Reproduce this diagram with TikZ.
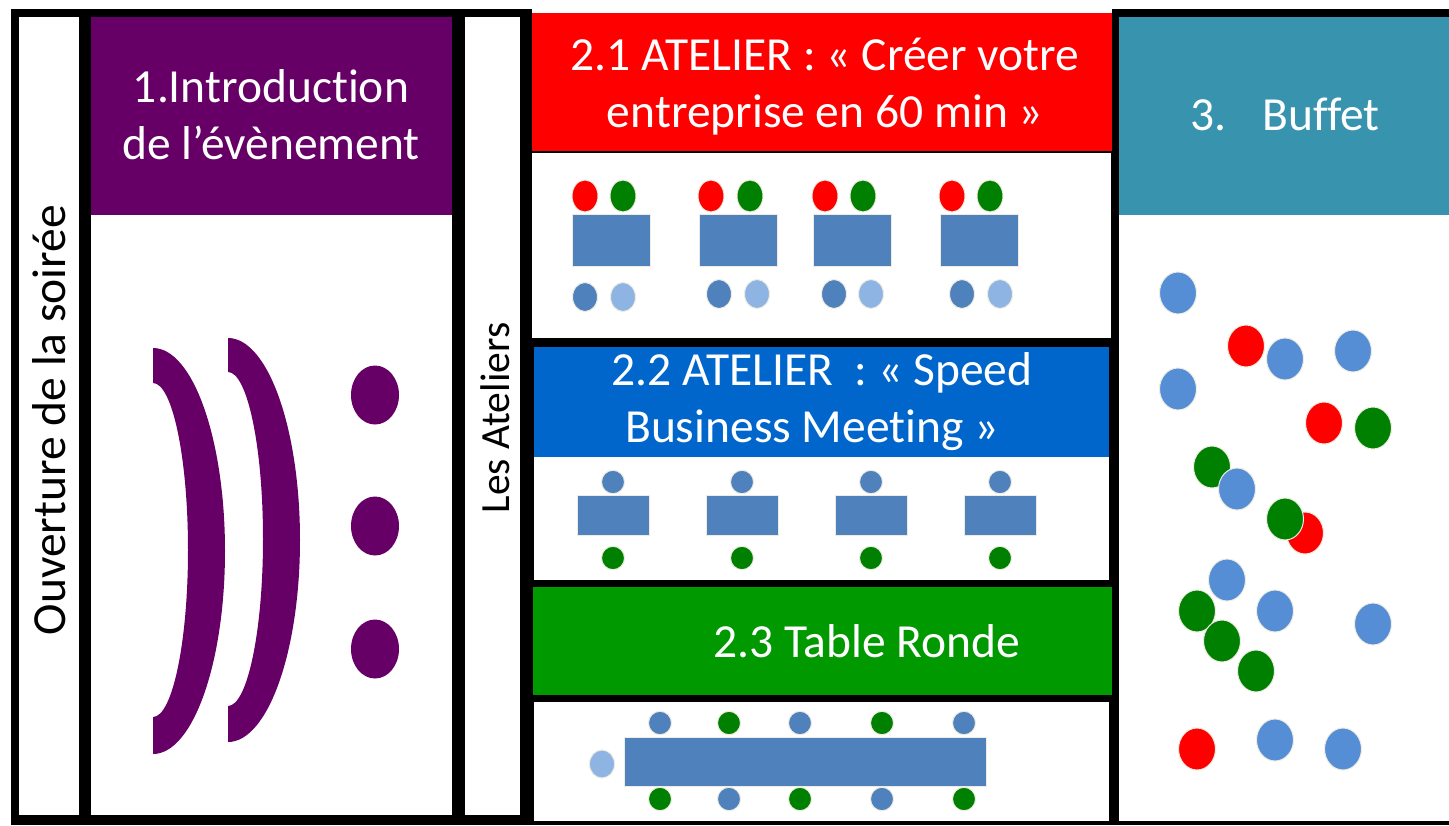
\documentclass[tikz,border=0pt]{standalone}
\usepackage{fontspec}
\setmainfont{Carlito}[Ligatures=NoCommon]
\definecolor{purp}{HTML}{660066}
\definecolor{redh}{HTML}{FF0000}
\definecolor{blueh}{HTML}{0066CC}
\definecolor{greenh}{HTML}{009900}
\definecolor{tealh}{HTML}{3894AE}
\definecolor{tblue}{HTML}{4F81BD}
\definecolor{lblue}{HTML}{8EB4E3}
\definecolor{bblue}{HTML}{558ED5}
\definecolor{pgreen}{HTML}{008000}
\definecolor{cream}{HTML}{EEECE1}
\tikzset{
  hdr/.style={text=white, font=\fontsize{47.5}{57}\selectfont, align=center, inner sep=0pt},
  sidelbl/.style={text=black, rotate=90, anchor=base, inner sep=0pt},
  frame/.style={fill=black},
  tablebox/.style={fill=tblue, draw=cream, line width=1pt},
  seat/.style={draw=cream, line width=1pt},
}
\begin{document}
\begin{tikzpicture}[x=1pt,y=-1pt]
\useasboundingbox (0,0) rectangle (1449,825);
\fill[white] (0,0) rectangle (1449,825);
% black frames
\fill[frame] (11,9) rectangle (532,825);
\fill[frame] (520,13) rectangle (1120,825);
\fill[frame] (1112,9) rectangle (1449,825);
% column A
\fill[white] (19,17) rectangle (79,815);
% column B
\fill[purp] (91,17) rectangle (452,215);
\fill[white] (91,215) rectangle (452,815);
% column C
\fill[white] (465,17) rectangle (520,815);
% column D
\fill[redh] (532,13) rectangle (1112,151);
\fill[white] (532,153) rectangle (1111,338);
\fill[blueh] (534,347) rectangle (1109,457);
\fill[white] (534,457) rectangle (1109,580);
\fill[greenh] (533,587) rectangle (1112,695);
\fill[white] (534,702) rectangle (1109,821);
% column E
\fill[tealh] (1119,17) rectangle (1449,215);
\fill[white] (1119,215) rectangle (1449,821);

% texts
\node[sidelbl, font=\fontsize{47.5}{57}\selectfont] (ouv) at (65.5,420) {Ouverture de la soirée};
\node[sidelbl, font=\fontsize{41.5}{50}\selectfont] (ate) at (509.5,418) {Les Ateliers};
\node[hdr] (intro) at (271,115) {1.Introduction\\de l’évènement};
\node[hdr] (a21) at (825,87) {2.1 ATELIER : « Créer votre\\entreprise en 60 min »};
\node[hdr] (a22) at (822,402) {2.2 ATELIER\ \ : « Speed\\Business Meeting »\hspace*{20pt}};
\node[hdr, anchor=base] (a23) at (867,657) {2.3 Table Ronde};
\node[hdr, anchor=base] (buf) at (1285,130) {3.\hspace{36pt}Buffet};

% purple stage arcs and dots
\fill[purp] (153,348) arc[start angle=90, end angle=-90, x radius=72pt, y radius=203pt]
  -- (153,717) arc[start angle=-90, end angle=90, x radius=35pt, y radius=167pt] -- cycle;
\fill[purp] (228,338) arc[start angle=90, end angle=-90, x radius=72pt, y radius=202pt]
  -- (228,706) arc[start angle=-90, end angle=90, x radius=35pt, y radius=167pt] -- cycle;
\foreach \py in {395,526,649}
  \fill[purp] (375,\py) ellipse[x radius=24pt, y radius=29.5pt];

% atelier 2.1
\foreach \tx/\rx/\gx/\dx/\lx/\by in {572/585/623/585/623/297, 699/711/750/719/757/294, 813/825/863/834/871/294, 940/952/990/962/1000/294} {
  \path[tablebox] (\tx,214) rectangle ++(78,52);
  \path[seat, fill=redh] (\rx,196) ellipse[x radius=13pt, y radius=16pt];
  \path[seat, fill=pgreen] (\gx,196) ellipse[x radius=13pt, y radius=16pt];
  \path[seat, fill=tblue] (\dx,\by) ellipse[x radius=12.5pt, y radius=14.5pt];
  \path[seat, fill=lblue] (\lx,\by) ellipse[x radius=12.5pt, y radius=14.5pt];
}

% atelier 2.2
\foreach \tx in {577,706,835,964} {
  \path[tablebox] (\tx,495) rectangle ++(72,40);
  \path[seat, fill=tblue] (\tx+36,482) ellipse[x radius=11.5pt, y radius=11.7pt];
  \path[seat, fill=pgreen] (\tx+36,558) ellipse[x radius=11.5pt, y radius=11.7pt];
}

% atelier 2.3
\path[tablebox] (624,737) rectangle (986,786);
\foreach \cx/\ct/\cb in {660/tblue/pgreen, 729/pgreen/tblue, 800/tblue/pgreen, 882/pgreen/tblue, 964/tblue/pgreen} {
  \path[seat, fill=\ct] (\cx,723) ellipse[x radius=11.5pt, y radius=11.7pt];
  \path[seat, fill=\cb] (\cx,799) ellipse[x radius=11.5pt, y radius=11.7pt];
}
\path[seat, fill=lblue] (602,764) ellipse[x radius=12.6pt, y radius=14pt];

% buffet guests
\foreach \bx/\by/\bc in {1178/293/bblue, 1246/346/redh, 1285/359/bblue, 1353/351/bblue, 1178/389/bblue,
  1324/423/redh, 1373/428/pgreen, 1212/467/pgreen, 1237/489/bblue, 1305/533/redh, 1285/519/pgreen,
  1227/580/bblue, 1197/611/pgreen, 1222/641/pgreen, 1275/611/bblue, 1256/671/pgreen, 1373/624/bblue,
  1197/749/redh, 1275/740/bblue, 1343/749/bblue}
  \path[seat, fill=\bc] (\bx,\by) ellipse[x radius=18.5pt, y radius=21pt];
\end{tikzpicture}
\end{document}
